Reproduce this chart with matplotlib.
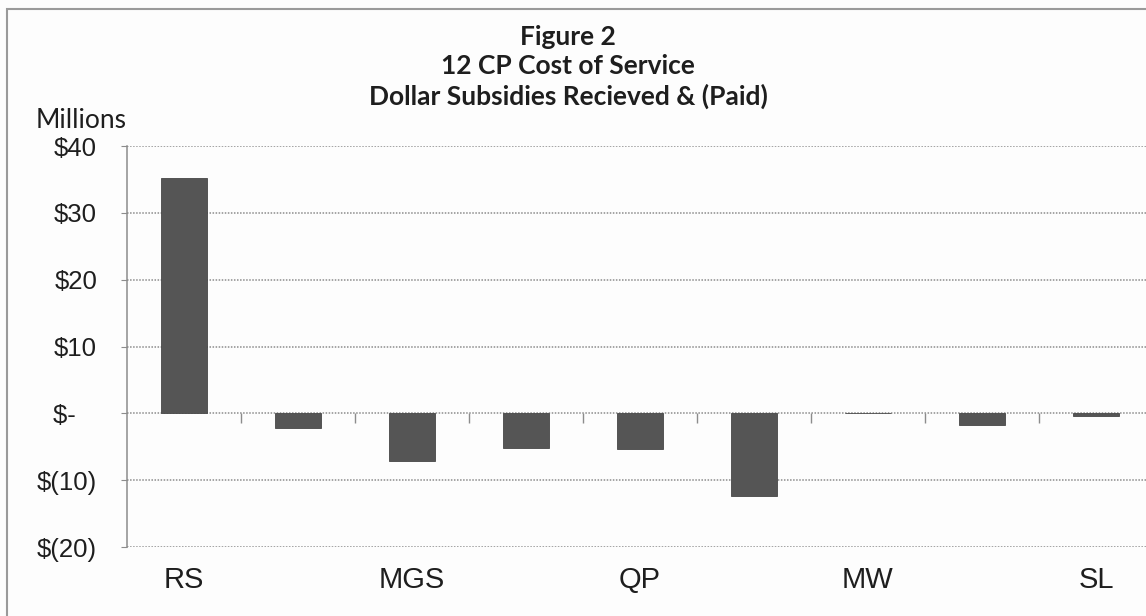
import numpy as np
import matplotlib
matplotlib.use("Agg")
import matplotlib.pyplot as plt
from matplotlib.patches import Rectangle

# rate classes (only every other name fits under the axis)
classes = ["RS", "", "MGS", "", "QP", "", "MW", "", "SL"]
# subsidy received (+) or paid (-), millions of dollars
subsidy = [35.2, -2.2, -7.1, -5.2, -5.4, -12.4, 0.0, -1.7, -0.35]

y_ticks = [-20, -10, 0, 10, 20, 30, 40]
y_labels = ["$(20)", "$(10)", "$-   ", "$10", "$20", "$30", "$40"]

W, H = 1146, 616
fig = plt.figure(figsize=(W / 100, H / 100), dpi=100)
fig.patch.set_facecolor("#fdfdfd")

# chart frame (runs off the right and bottom edge)
fig.patches.append(Rectangle((7 / W, -0.05), 1.2, 1 - 9 / H + 0.05,
                             transform=fig.transFigure, fill=False,
                             edgecolor="#9a9a9a", linewidth=1.5))

left, right = 127, 1153
bottom, top = 547, 146
ax = fig.add_axes([left / W, 1 - bottom / H, (right - left) / W, (bottom - top) / H])
ax.set_facecolor("none")

x = np.arange(len(classes))
ax.bar(x, subsidy, width=0.4, color="#555555", edgecolor="#474747", linewidth=0.6, zorder=3)

ax.set_xlim(-0.5, len(classes) - 0.5)
ax.set_ylim(y_ticks[0], y_ticks[-1])

grid = dict(color="#8c8c8c", linestyle=(0, (1, 1)), linewidth=1.1)
for v in y_ticks:
    ax.axhline(v, zorder=1, **grid)

# short ticks on the zero line between the classes
bounds = x[:-1] + 0.5
ax.vlines(bounds, -1.5, 0, color="#8c8c8c", linewidth=1.0, zorder=2)

for s in ["top", "right", "bottom"]:
    ax.spines[s].set_visible(False)
ax.spines["left"].set_color("#8c8c8c")
ax.spines["left"].set_linestyle((0, (1, 1)))
ax.spines["left"].set_linewidth(1.1)

ax.set_yticks(y_ticks)
ax.set_yticklabels(y_labels, family="Liberation Sans", size=18.5, color="#1e1e1e")
ax.tick_params(axis="y", length=4.5, color="#8c8c8c", pad=17)
ax.set_xticks(x)
ax.set_xticklabels(classes, family="Liberation Sans", size=21, color="#1e1e1e")
ax.tick_params(axis="x", length=0, pad=14)

title_font = dict(family="Lato", weight="bold", size=19, color="#1e1e1e", ha="center", va="center")
fig.text(568 / W, 1 - 37 / H, "Figure 2", **title_font)
fig.text(568 / W, 1 - 66 / H, "12 CP Cost of Service", **title_font)
fig.text(568 / W, 1 - 96 / H, "Dollar Subsidies Recieved & (Paid)", **title_font)

fig.text(81 / W, 1 - 121 / H, "Millions", family="Lato", size=19, color="#1e1e1e",
         ha="center", va="center")

fig.savefig("out.png", dpi=100, facecolor=fig.get_facecolor())
